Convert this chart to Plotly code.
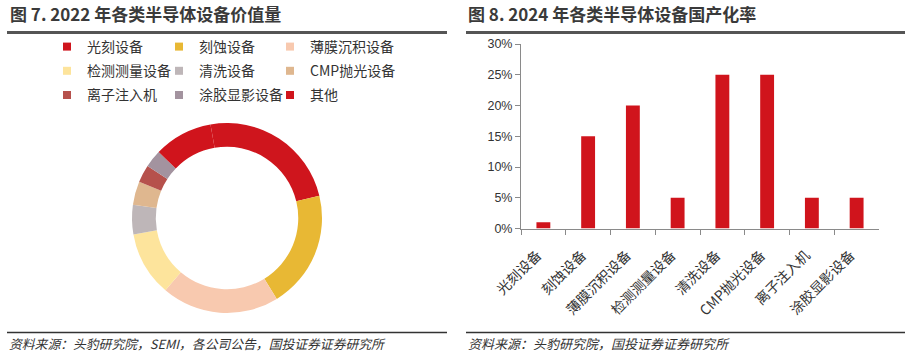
import plotly.graph_objects as go

W, H = 912, 355

# ---------------- data ----------------
pie_labels = ["光刻设备", "刻蚀设备", "薄膜沉积设备", "检测测量设备", "清洗设备",
              "CMP抛光设备", "离子注入机", "涂胶显影设备", "其他"]
pie_values = [24, 20, 20, 11, 5, 4, 3, 3, 10]
pie_colors = ["#CF151D", "#E8B834", "#F8C9AF", "#FDE49C", "#BEB6B8",
              "#DFB78F", "#B6514C", "#A3939F", "#D0141C"]

bar_categories = ["光刻设备", "刻蚀设备", "薄膜沉积设备", "检测测量设备", "清洗设备",
                  "CMP抛光设备", "离子注入机", "涂胶显影设备"]
bar_values = [1, 15, 20, 5, 25, 25, 5, 5]
y_tick_values = [0, 5, 10, 15, 20, 25, 30]
y_tick_labels = ["0%", "5%", "10%", "15%", "20%", "25%", "30%"]

left_title = "图 7. 2022 年各类半导体设备价值量"
right_title = "图 8. 2024 年各类半导体设备国产化率"
left_source = "资料来源：头豹研究院，SEMI，各公司公告，国投证券证券研究所"
right_source = "资料来源：头豹研究院，国投证券证券研究所"

CJK = "Noto Sans CJK SC"
TXT = "#333333"
BAR_RED = "#D0141C"
AX = "#8A8A8A"


def px(x):
    return x / W


def py(y):
    return (H - y) / H


fig = go.Figure()

# donut
fig.add_trace(go.Pie(
    labels=pie_labels, values=pie_values, sort=False, direction="clockwise",
    rotation=-10, hole=0.75, textinfo="none", showlegend=False,
    marker=dict(colors=pie_colors, line=dict(width=0)),
    domain=dict(x=[px(132), px(322)], y=[py(313), py(123)]),
))

# legend entries: laid out row-major in 3 columns (one legend per column)
legend_ids = ["legend", "legend2", "legend3"]
for i, (lab, col) in enumerate(zip(pie_labels, pie_colors)):
    fig.add_trace(go.Scatter(
        x=[None], y=[None], mode="markers", name=lab,
        marker=dict(symbol="square", size=8, color=col),
        legend=legend_ids[i % 3], legendgroup=f"g{i}",
        showlegend=True, hoverinfo="skip",
        xaxis="x2", yaxis="y2",
    ))

# bar chart
fig.add_trace(go.Bar(
    x=bar_categories, y=bar_values, marker=dict(color=BAR_RED, line=dict(width=0)),
    width=0.31, showlegend=False, xaxis="x", yaxis="y",
))

legend_common = dict(
    orientation="v", xanchor="left", yanchor="top", y=py(31),
    tracegroupgap=3,
    font=dict(family=CJK, size=14, color=TXT), bgcolor="rgba(0,0,0,0)",
    borderwidth=0, itemclick=False, itemdoubleclick=False,
)
col_x = [47, 159, 270]

shapes = []
for x0, x1 in [(7, 447), (466, 905)]:
    shapes.append(dict(type="line", xref="paper", yref="paper",
                       x0=px(x0), x1=px(x1), y0=py(32.5), y1=py(32.5),
                       line=dict(color="#555555", width=3)))
    shapes.append(dict(type="line", xref="paper", yref="paper",
                       x0=px(x0), x1=px(x1), y0=py(332.5), y1=py(332.5),
                       line=dict(color="#333333", width=1.3)))

annotations = [
    dict(text=f"<b>{left_title}</b>", x=px(8), y=py(14), xref="paper", yref="paper",
         xanchor="left", yanchor="middle", showarrow=False,
         font=dict(family=CJK, size=17, color="#3A3A3A")),
    dict(text=f"<b>{right_title}</b>", x=px(466), y=py(14), xref="paper", yref="paper",
         xanchor="left", yanchor="middle", showarrow=False,
         font=dict(family=CJK, size=17, color="#3A3A3A")),
    dict(text=f"<i>{left_source}</i>", x=px(7), y=py(343), xref="paper", yref="paper",
         xanchor="left", yanchor="middle", showarrow=False,
         font=dict(family=CJK, size=12.8, color="#333333")),
    dict(text=f"<i>{right_source}</i>", x=px(466), y=py(343), xref="paper", yref="paper",
         xanchor="left", yanchor="middle", showarrow=False,
         font=dict(family=CJK, size=13, color="#333333")),
]

fig.update_layout(
    width=W, height=H, margin=dict(l=0, r=0, t=0, b=0, autoexpand=False),
    paper_bgcolor="white", plot_bgcolor="white",
    legend=dict(**legend_common, x=px(col_x[0])),
    legend2=dict(**legend_common, x=px(col_x[1])),
    legend3=dict(**legend_common, x=px(col_x[2])),
    xaxis=dict(
        domain=[px(521), px(879)], type="category",
        categoryorder="array", categoryarray=bar_categories,
        showline=True, linecolor=AX, linewidth=1,
        ticks="outside", tickson="boundaries", ticklen=5, tickcolor=AX,
        tickangle=-45, tickfont=dict(family=CJK, size=14, color=TXT),
        ticklabelstandoff=12, ticklabelshift=-6,
        showgrid=False, zeroline=False, anchor="y", fixedrange=True,
        automargin=False,
    ),
    yaxis=dict(
        domain=[py(228.5), py(44)], range=[0, 30],
        tickvals=y_tick_values, ticktext=y_tick_labels,
        showline=True, linecolor=AX, linewidth=1,
        ticks="outside", ticklen=5, tickcolor=AX,
        tickfont=dict(family="Liberation Sans", size=12.5, color=TXT),
        showgrid=False, zeroline=False, anchor="x", fixedrange=True,
        automargin=False,
    ),
    xaxis2=dict(domain=[0, 0.01], visible=False, anchor="y2", automargin=False),
    yaxis2=dict(domain=[0, 0.01], visible=False, anchor="x2", automargin=False),
    shapes=shapes, annotations=annotations,
)

fig.write_html(
    "out.html",
    config={"displayModeBar": False},
    post_script="document.body.style.margin='0';document.body.style.padding='0';",
)
